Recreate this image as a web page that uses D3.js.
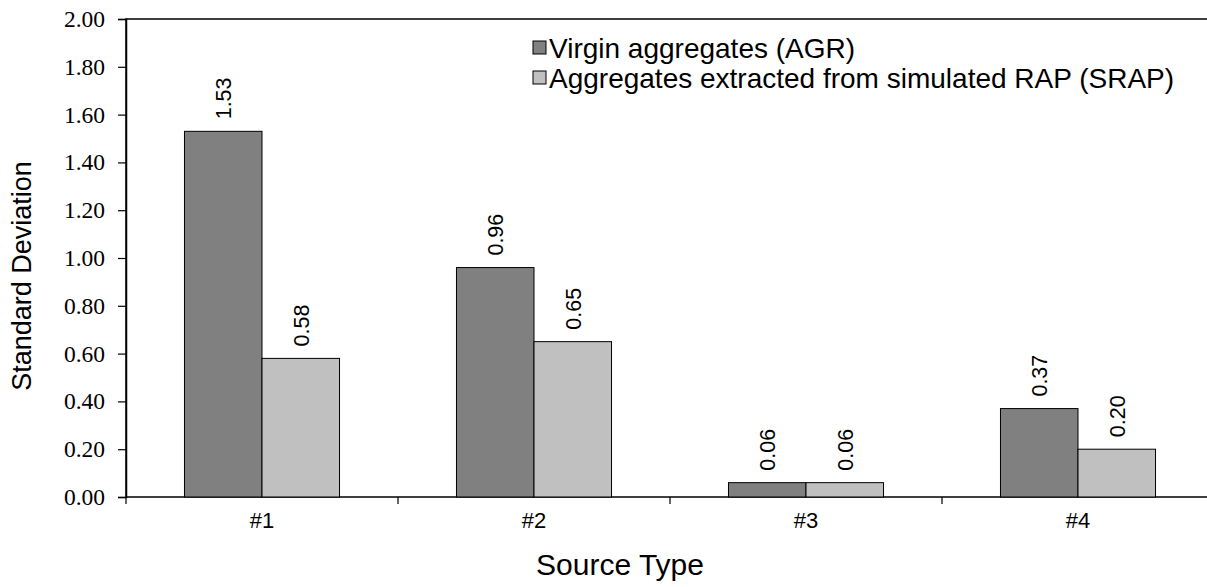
<!DOCTYPE html>
<html>
<head>
<meta charset="utf-8">
<script src="https://cdn.jsdelivr.net/npm/d3@7"></script>
<style>
  html, body { margin: 0; padding: 0; background: #fff; }
  svg { display: block; }
</style>
</head>
<body>
<svg id="chart" width="1207" height="587"></svg>
<script>
// Source types and standard deviations for the two aggregate groups
const categories = ["#1", "#2", "#3", "#4"];
const seriesNames = ["Virgin aggregates (AGR)", "Aggregates extracted from simulated RAP (SRAP)"];
const agrValues = [1.53, 0.96, 0.06, 0.37];
const srapValues = [0.58, 0.65, 0.06, 0.20];
const yTicks = [0, 0.2, 0.4, 0.6, 0.8, 1.0, 1.2, 1.4, 1.6, 1.8, 2.0];

const seriesColors = ["#808080", "#c0c0c0"];
const seriesValues = [agrValues, srapValues];

const svg = d3.select("#chart");
const plot = { left: 126, top: 19, bottom: 497, right: 1214 };

const x = d3.scaleBand()
  .domain(categories)
  .range([plot.left, plot.right])
  .paddingInner(0.43)
  .paddingOuter(0.215);

const xSeries = d3.scaleBand()
  .domain(d3.range(seriesNames.length))
  .range([0, x.bandwidth()]);

const y = d3.scaleLinear().domain([0, 2]).range([plot.bottom, plot.top]);

// Plot frame (right edge runs off the canvas)
svg.append("rect")
  .attr("x", plot.left).attr("y", plot.top)
  .attr("width", plot.right - plot.left).attr("height", plot.bottom - plot.top)
  .attr("fill", "none").attr("stroke", "#000").attr("stroke-width", 1.5);

// Bars
const groups = svg.append("g").selectAll("g")
  .data(categories)
  .join("g")
  .attr("transform", d => `translate(${x(d)},0)`);

groups.selectAll("rect")
  .data((d, i) => seriesValues.map((vals, s) => ({ s, v: vals[i] })))
  .join("rect")
  .attr("x", d => xSeries(d.s))
  .attr("y", d => y(d.v))
  .attr("width", xSeries.bandwidth())
  .attr("height", d => y(0) - y(d.v))
  .attr("fill", d => seriesColors[d.s])
  .attr("stroke", "#000")
  .attr("stroke-width", 1);

// Value labels, rotated
groups.selectAll("text")
  .data((d, i) => seriesValues.map((vals, s) => ({ s, v: vals[i] })))
  .join("text")
  .attr("transform", d => `translate(${xSeries(d.s) + xSeries.bandwidth() / 2 + 8},${y(d.v) - 12}) rotate(-90)`)
  .attr("text-anchor", "start")
  .attr("font-family", "Liberation Sans, Arial, sans-serif")
  .attr("font-size", 21.5)
  .attr("fill", "#000")
  .text(d => d.v.toFixed(2));

// Y axis
const yAxis = svg.append("g")
  .attr("transform", `translate(${plot.left},0)`)
  .call(d3.axisLeft(y).tickValues(yTicks).tickFormat(d3.format(".2f")).tickSize(8).tickPadding(13));
yAxis.select(".domain").attr("stroke", "#000").attr("stroke-width", 1.5);
yAxis.selectAll(".tick line").attr("stroke", "#000").attr("stroke-width", 1.2);
yAxis.selectAll(".tick text")
  .attr("font-family", "Liberation Serif, Times New Roman, serif")
  .attr("font-size", 23.5)
  .attr("fill", "#000");

// X axis: ticks sit between categories
const boundaries = d3.range(categories.length + 1).map(i => plot.left + i * x.step());
svg.append("g").selectAll("line")
  .data(boundaries)
  .join("line")
  .attr("x1", d => d).attr("x2", d => d)
  .attr("y1", plot.bottom).attr("y2", plot.bottom + 7)
  .attr("stroke", "#000").attr("stroke-width", 1.2);

svg.append("g").selectAll("text")
  .data(categories)
  .join("text")
  .attr("x", d => x(d) + x.bandwidth() / 2)
  .attr("y", 528)
  .attr("text-anchor", "middle")
  .attr("font-family", "Liberation Sans, Arial, sans-serif")
  .attr("font-size", 22)
  .attr("fill", "#000")
  .text(d => d);

// Axis titles
svg.append("text")
  .attr("x", 620).attr("y", 575)
  .attr("text-anchor", "middle")
  .attr("font-family", "Liberation Sans, Arial, sans-serif")
  .attr("font-size", 30)
  .text("Source Type");

svg.append("text")
  .attr("transform", "translate(31,276) rotate(-90)")
  .attr("text-anchor", "middle")
  .attr("font-family", "Liberation Sans, Arial, sans-serif")
  .attr("font-size", 27)
  .text("Standard Deviation");

// Legend
const legend = svg.append("g").attr("transform", "translate(533,0)");
const legendRows = legend.selectAll("g")
  .data(seriesNames)
  .join("g")
  .attr("transform", (d, i) => `translate(0,${48 + i * 30})`);
legendRows.append("rect")
  .attr("x", 0).attr("y", -7)
  .attr("width", 13).attr("height", 13)
  .attr("fill", (d, i) => seriesColors[i])
  .attr("stroke", "#000").attr("stroke-width", 1);
legendRows.append("text")
  .attr("x", 16).attr("y", 9.5)
  .attr("font-family", "Liberation Sans, Arial, sans-serif")
  .attr("font-size", 28)
  .attr("fill", "#000")
  .text(d => d);
</script>
</body>
</html>
